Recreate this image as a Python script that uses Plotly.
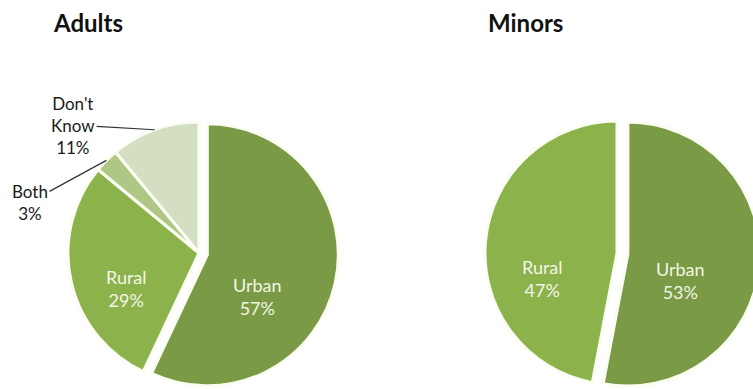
import math
import plotly.graph_objects as go

# Place of residence, shares in percent
adult_labels = ["Urban", "Rural", "Both", "Don't Know"]
adult_values = [57, 29, 3, 11]
minor_labels = ["Urban", "Rural"]
minor_values = [53, 47]
titles = ["Adults", "Minors"]

slice_colors = {
    "Urban": "#7a9a45",
    "Rural": "#8cb24b",
    "Both": "#aec784",
    "Don't Know": "#d3dfc0",
}

FONT = "Lato, 'Open Sans', sans-serif"

# Canvas is a little larger than the visible window, so the right and
# bottom edges of the pies are clipped.
W, H = 780, 410

# Pie geometry in pixels: centre, radius and pull of the Urban slice
adult_pie = dict(cx=199, cy=253, r=131, pull=0.065)
minor_pie = dict(cx=617, cy=253, r=132, pull=0.083)

# Label centres in pixels
title_pos = [(88, 22), (525, 22)]
adult_inside_pos = {"Urban": (257, 296), "Rural": (126, 288)}
minor_inside_pos = {"Urban": (680, 280), "Rural": (542, 278)}
adult_outside_pos = {"Don't Know": (73, 125), "Both": (30, 202)}


def pie_domain(p):
    half = p["r"] * (1 + p["pull"])
    yc = H - p["cy"]
    return dict(x=[(p["cx"] - half) / W, (p["cx"] + half) / W],
                y=[(yc - half) / H, (yc + half) / H])


def px_to_paper(x, y):
    return x / W, 1 - y / H


def pie_trace(labels, values, geom):
    return go.Pie(
        labels=labels,
        values=values,
        sort=False,
        direction="clockwise",
        rotation=0,
        pull=[geom["pull"] if lab == "Urban" else 0 for lab in labels],
        marker=dict(colors=[slice_colors[lab] for lab in labels],
                    line=dict(color="#fbfdf3", width=3)),
        textinfo="none",
        hoverinfo="label+percent",
        domain=pie_domain(geom),
        showlegend=False,
    )


fig = go.Figure()
fig.add_trace(pie_trace(adult_labels, adult_values, adult_pie))
fig.add_trace(pie_trace(minor_labels, minor_values, minor_pie))

annotations = []

# Chart titles
for text, (x, y) in zip(titles, title_pos):
    px, py = px_to_paper(x, y)
    annotations.append(dict(
        x=px, y=py, xref="paper", yref="paper", showarrow=False,
        xanchor="center", yanchor="middle",
        text=f"<b>{text}</b>", font=dict(family=FONT, size=24, color="#111111"),
    ))

# Labels inside the large slices
for labels, values, positions in [
    (adult_labels, adult_values, adult_inside_pos),
    (minor_labels, minor_values, minor_inside_pos),
]:
    for lab, val in zip(labels, values):
        if lab not in positions:
            continue
        px, py = px_to_paper(*positions[lab])
        annotations.append(dict(
            x=px, y=py, xref="paper", yref="paper", showarrow=False,
            xanchor="center", yanchor="middle",
            text=f"{lab}<br>{val}%",
            font=dict(family=FONT, size=18, color="#f3f6e6"),
        ))

# Outside labels with leader lines pointing at the middle of each small slice
total = sum(adult_values)
start = 0.0
for lab, val in zip(adult_labels, adult_values):
    span = 360.0 * val / total
    mid = math.radians(start + span / 2)
    start += span
    if lab not in adult_outside_pos:
        continue
    ex = adult_pie["cx"] + adult_pie["r"] * math.sin(mid)
    ey = adult_pie["cy"] - adult_pie["r"] * math.cos(mid)
    tx, ty = adult_outside_pos[lab]
    px, py = px_to_paper(ex, ey)
    annotations.append(dict(
        x=px, y=py, xref="paper", yref="paper",
        ax=tx - ex, ay=ty - ey, axref="pixel", ayref="pixel",
        showarrow=True, arrowhead=0, arrowwidth=1.2, arrowcolor="#333333",
        text="<br>".join(lab.split(" ")) + f"<br>{val}%",
        font=dict(family=FONT, size=17, color="#1a1a1a"),
    ))

fig.update_layout(
    width=W,
    height=H,
    margin=dict(l=0, r=0, t=0, b=0),
    paper_bgcolor="white",
    plot_bgcolor="white",
    annotations=annotations,
)

fig.write_html(
    "out.html",
    post_script=(
        "document.documentElement.style.overflow='hidden';"
        "document.body.style.overflow='hidden';"
        "document.body.style.margin='0';"
    ),
)
